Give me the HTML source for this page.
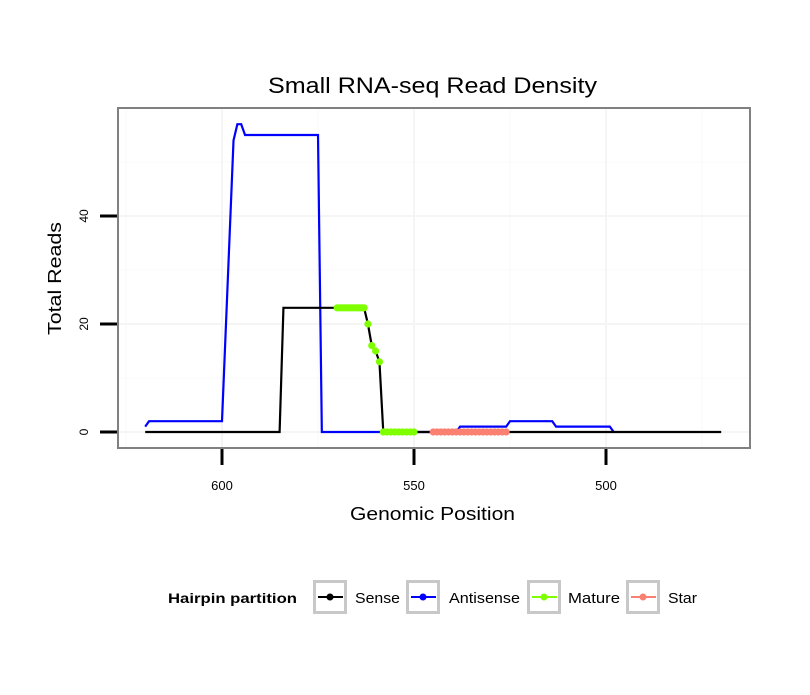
<!DOCTYPE html>
<html><head><meta charset="utf-8"><style>
body{margin:0;background:#fff;font-family:"Liberation Sans",sans-serif}
</style></head><body>
<svg id="c" width="810" height="690" xmlns="http://www.w3.org/2000/svg"></svg>
<script>
const xTicks=[600,550,500];
const yTicks=[0,20,40];
const sensePos=[620,585,584,570,569,568,567,566,565,564,563,562,561,560,559,558,470];
const senseVal=[0,0,23,23,23,23,23,23,23,23,23,20,16,15,13,0,0];
const antiPos=[620,619,600,597,596,595,594,575,574,539,538,526,525,514,513,499,498];
const antiVal=[1,2,2,54,57,57,55,55,0,0,1,1,2,2,1,1,0];
const maturePos=[570,569.5,569,568.5,568,567.5,567,566.5,566,565.5,565,564.5,564,563.5,563,562,561,560,559,558,557,556,555,554,553,552,551,550];
const matureVal=[23,23,23,23,23,23,23,23,23,23,23,23,23,23,23,20,16,15,13,0,0,0,0,0,0,0,0,0];
const starPos=[545,544,543,542,541,540,539,538,537,536,535,534,533,532,531,530,529,528,527,526];
const starVal=[0,0,0,0,0,0,0,0,0,0,0,0,0,0,0,0,0,0,0,0];
const X=p=>222+(600-p)*3.84, Y=v=>432-v*5.4;
const svg=document.getElementById('c');const NS='http://www.w3.org/2000/svg';
function mk(t,a,p){const e=document.createElementNS(NS,t);for(const k in a)e.setAttribute(k,a[k]);(p||svg).appendChild(e);return e;}
let e;
[126,318,510,702].forEach(x=>{e=mk('line',{x1:x,x2:x,y1:108,y2:448,stroke:'#fafafa','stroke-width':1});});
[378,270,162].forEach(y=>{e=mk('line',{x1:118,x2:750,y1:y,y2:y,stroke:'#fafafa','stroke-width':1});});
xTicks.forEach(t=>{e=mk('line',{x1:X(t),x2:X(t),y1:108,y2:448,stroke:'#f5f5f5','stroke-width':2});
e=mk('line',{x1:X(t),x2:X(t),y1:449,y2:465,stroke:'#000','stroke-width':3});
e=mk('text',{x:X(t),y:490,'text-anchor':'middle','font-size':13});e.textContent=t;});
yTicks.forEach(t=>{e=mk('line',{x1:118,x2:750,y1:Y(t),y2:Y(t),stroke:'#f5f5f5','stroke-width':2});
e=mk('line',{x1:100,x2:117,y1:Y(t),y2:Y(t),stroke:'#000','stroke-width':3});
e=mk('text',{x:0,y:0,'text-anchor':'middle','font-size':12,transform:`translate(88,${Y(t)}) rotate(-90)`});e.textContent=t;});
function line(ps,vs,col,name){e=mk('polyline',{points:ps.map((p,i)=>X(p)+','+Y(vs[i])).join(' '),fill:'none',stroke:col,'stroke-width':2.2});}
function pts(ps,vs,col,name){ps.forEach((p,i)=>{e=mk('circle',{cx:X(p),cy:Y(vs[i]),r:3.6,fill:col});});}
line(antiPos,antiVal,'#0000ff','antisense-line');
line(sensePos,senseVal,'#000','sense-line');
pts(maturePos,matureVal,'#7fff00','mature');
pts(starPos,starVal,'#fa8072','star');
e=mk('rect',{x:118,y:108,width:632,height:340,fill:'none',stroke:'#808080','stroke-width':2});
e=mk('text',{x:268,y:93,'font-size':22,textLength:329,lengthAdjust:'spacingAndGlyphs'});e.textContent='Small RNA-seq Read Density';
e=mk('text',{x:350,y:520,'font-size':18,textLength:165,lengthAdjust:'spacingAndGlyphs'});e.textContent='Genomic Position';
e=mk('text',{x:0,y:0,'font-size':18,textLength:113,lengthAdjust:'spacingAndGlyphs',transform:'translate(61,335) rotate(-90)'});e.textContent='Total Reads';
e=mk('text',{x:168,y:603,'font-size':14,'font-weight':'bold',textLength:129,lengthAdjust:'spacingAndGlyphs'});e.textContent='Hairpin partition';
const leg=[['Sense','#000',313,355,45],['Antisense','#0000ff',406,449,71],['Mature','#7fff00',527,568,52],['Star','#fa8072',626,668,29]];
leg.forEach(([n,c,x,tx,tl])=>{const g=mk('g',{});
mk('rect',{x:x+1.5,y:581.5,width:31,height:31,fill:'#fff',stroke:'#c8c8c8','stroke-width':3},g);
mk('line',{x1:x+5,x2:x+30,y1:597,y2:597,stroke:c,'stroke-width':2},g);
mk('circle',{cx:x+17,cy:597,r:3.5,fill:c},g);
const t=mk('text',{x:tx,y:603,'font-size':15,textLength:tl,lengthAdjust:'spacingAndGlyphs'},g);t.textContent=n;});
</script>
</body></html>
